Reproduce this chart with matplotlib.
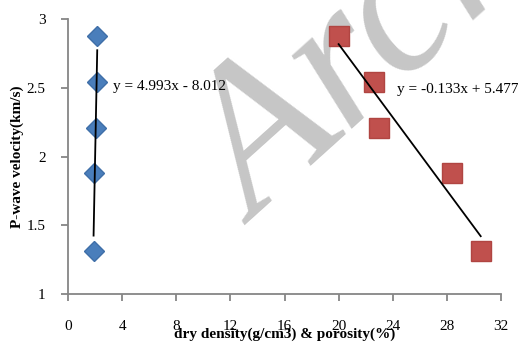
import numpy as np
import matplotlib.pyplot as plt

# dry density (g/cm3) vs P-wave velocity
density_x = [1.89, 1.93, 2.07, 2.12, 2.16]
density_v = [1.31, 1.88, 2.21, 2.54, 2.88]
density_fit = (4.993, -8.012)

# porosity (%) vs P-wave velocity
porosity_x = [20.0, 22.6, 23.0, 28.4, 30.5]
porosity_v = [2.88, 2.54, 2.21, 1.88, 1.31]
porosity_fit = (-0.133, 5.477)

x_ticks = [0, 4, 8, 12, 16, 20, 24, 28, 32]
y_ticks = [1, 1.5, 2, 2.5, 3]

plt.rcParams['font.family'] = ['Liberation Serif', 'DejaVu Serif']

fig = plt.figure(figsize=(5.24, 3.45), dpi=100)
ax = fig.add_axes([68 / 524, 1 - 294 / 345, 433 / 524, 275 / 345])

# watermark behind the data
ax.text(0.435, 0.25, 'Archive', transform=ax.transAxes, fontsize=148,
        style='italic', color='#c6c6c6', rotation=42, ha='left',
        va='baseline', rotation_mode='anchor', zorder=0)

ax.plot(density_x, density_v, 'D', color='#4a7ebb', mec='#3f6fa8',
        ms=10.2, zorder=3)
ax.plot(porosity_x, porosity_v, 's', color='#c0504d', mec='#b04542',
        ms=14.6, zorder=3)

for xs, (m, b) in [(density_x, density_fit), (porosity_x, porosity_fit)]:
    xx = np.array([min(xs), max(xs)])
    ax.plot(xx, m * xx + b, color='black', lw=1.3, zorder=4)

ax.text(3.3, 2.51, 'y = 4.993x - 8.012', fontsize=11, va='center', zorder=5)
ax.text(24.3, 2.49, 'y = -0.133x + 5.477', fontsize=11, va='center', zorder=5)

ax.set_xlim(0, 32)
ax.set_ylim(1, 3)
ax.set_xticks(x_ticks)
ax.set_yticks(y_ticks)
ax.set_yticklabels(['1', '1.5', '2', '2.5', '3'])

for s in ['top', 'right']:
    ax.spines[s].set_visible(False)
for s in ['left', 'bottom']:
    ax.spines[s].set_color('#868686')
    ax.spines[s].set_linewidth(1.3)
ax.tick_params(axis='both', colors='#868686', labelcolor='black',
               length=5, width=1.3, labelsize=11)
ax.tick_params(axis='x', pad=14)
ax.tick_params(axis='y', pad=11)

ax.set_xlabel('dry density(g/cm3) & porosity(%)', fontsize=11,
              fontweight='bold', labelpad=-4)
ax.set_ylabel('P-wave velocity(km/s)', fontsize=11, fontweight='bold',
              labelpad=2)

fig.savefig('out.png', dpi=100)
